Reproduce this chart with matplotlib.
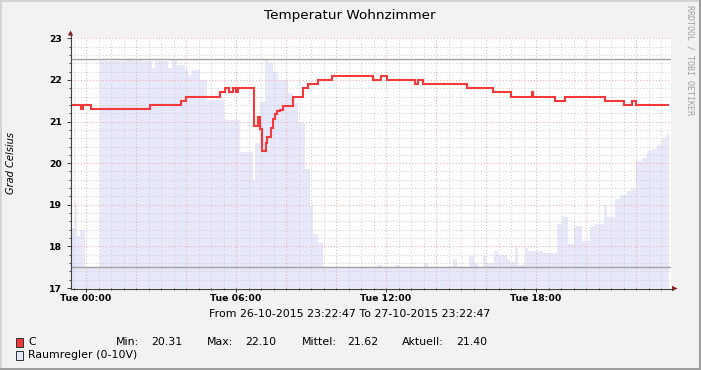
import matplotlib
matplotlib.use('Agg')
import matplotlib.pyplot as plt
import numpy as np
from matplotlib.patches import Rectangle, Polygon
from matplotlib.lines import Line2D

# ---------------- data (hours relative to Tue 00:00) ----------------
x_start, x_end = -0.6203, 23.3797

temp_hours = [-0.62, -0.20, -0.11, 0.20, 2.56, 3.80, 4.00, 5.36, 5.56, 5.72, 5.88, 5.99,
              6.07, 6.72, 6.89, 6.96, 7.05, 7.20, 7.25, 7.39, 7.47, 7.56, 7.65, 7.76,
              7.89, 8.29, 8.69, 8.89, 9.29, 9.83, 11.49, 11.79, 12.03, 13.16, 13.29,
              13.49, 15.23, 16.29, 16.99, 17.83, 17.89, 18.76, 19.16, 20.76, 21.52,
              21.83, 22.00]
temp_values = [21.4, 21.3, 21.4, 21.3, 21.4, 21.5, 21.6, 21.7, 21.8, 21.7, 21.8, 21.7,
               21.8, 20.9, 21.1, 20.82, 20.3, 20.48, 20.64, 20.85, 21.07, 21.18, 21.25, 21.28,
               21.38, 21.6, 21.8, 21.9, 22.0, 22.1, 22.0, 22.1, 22.0, 21.9, 22.0,
               21.9, 21.8, 21.7, 21.6, 21.7, 21.6, 21.5, 21.6, 21.5, 21.4,
               21.5, 21.4]
temp_end = 23.29

regler_hours = [-0.62, -0.44, -0.37, -0.24, -0.04, 0.56, 1.63, 1.83, 2.08, 2.24, 2.63, 2.76,
                3.28, 3.44, 3.64, 3.96, 4.08, 4.24, 4.56, 4.84, 5.52, 6.16, 6.68, 6.76,
                6.96, 7.16, 7.28, 7.48, 7.68, 8.08, 8.28, 8.48, 8.76, 8.96, 9.08, 9.28,
                9.48, 11.63, 11.83, 12.36, 12.52, 13.52, 13.68, 14.68, 14.84, 15.32,
                15.52, 15.68, 15.88, 16.00, 16.32, 16.48, 16.84, 16.96, 17.16, 17.28,
                17.56, 17.68, 18.28, 18.84, 19.04, 19.28, 19.52, 19.84, 20.16, 20.36,
                20.72, 20.84, 21.16, 21.36, 21.64, 21.80, 22.00, 22.24, 22.44, 22.64,
                22.84, 23.04, 23.20]
regler_values = [18.45, 19.04, 18.26, 18.40, 17.50, 22.46, 22.50, 22.46, 22.50, 22.46, 22.28, 22.46,
                 22.28, 22.50, 22.36, 22.24, 22.12, 22.24, 22.00, 21.52, 21.04, 20.26, 19.60, 20.49,
                 21.48, 22.48, 22.40, 22.20, 22.00, 21.68, 21.44, 20.96, 19.87, 18.98, 18.30, 18.08,
                 17.50, 17.56, 17.50, 17.56, 17.50, 17.60, 17.50, 17.70, 17.50, 17.77,
                 17.60, 17.50, 17.77, 17.60, 17.90, 17.80, 17.70, 17.63, 17.98, 17.55,
                 17.95, 17.90, 17.85, 18.54, 18.70, 18.06, 18.50, 18.12, 18.50, 18.54,
                 19.00, 18.70, 19.14, 19.24, 19.32, 19.40, 20.04, 20.12, 20.28, 20.34,
                 20.44, 20.60, 20.70]
regler_end = 23.32

hrules = [22.5, 17.5]
x_tick_pos = [0, 6, 12, 18]
x_tick_labels = ['Tue 00:00', 'Tue 06:00', 'Tue 12:00', 'Tue 18:00']
y_ticks = [17, 18, 19, 20, 21, 22, 23]

legend_stats = [('Min:', '20.31'), ('Max:', '22.10'), ('Mittel:', '21.62'), ('Aktuell:', '21.40')]

# ---------------- figure ----------------
W, H = 701, 370
fig = plt.figure(figsize=(W / 100, H / 100), dpi=100, facecolor='#f2f2f2')

def fx(x):
    return x / W

def fy(y):
    return 1 - y / H

# 3D border
fig.add_artist(Rectangle((0, fy(2)), 1, 2 / H, transform=fig.transFigure, color='#d4d4d4', lw=0))
fig.add_artist(Rectangle((0, 0), 2 / W, 1, transform=fig.transFigure, color='#d4d4d4', lw=0))
fig.add_artist(Rectangle((0, 0), 1, 2 / H, transform=fig.transFigure, color='#9e9e9e', lw=0))
fig.add_artist(Rectangle((fx(699), 0), 2 / W, 1, transform=fig.transFigure, color='#9e9e9e', lw=0))

ax = fig.add_axes([fx(70.5), fy(288), 600 / W, (288 - 38.3) / H])
ax.set_facecolor('white')
ax.set_xlim(x_start, x_end)
ax.set_ylim(17, 23)
for s in ax.spines.values():
    s.set_visible(False)

# area
rx = regler_hours + [regler_end]
ry = regler_values + [regler_values[-1]]
ax.fill_between(rx, 17, ry, step='post', color='#e8e8fb', lw=0, zorder=1)

# grid
minor_col = '#cfcfcf'
major_col = '#eeacac'
dots = (0, (1, 2))
for v in np.arange(17.2, 23.0, 0.2):
    if abs(v - round(v)) > 1e-6:
        ax.axhline(v, color=minor_col, lw=0.75, ls=dots, zorder=2)
for v in np.arange(-0.5, 23.3, 0.5):
    if abs(v / 2 - round(v / 2)) > 1e-6:
        ax.axvline(v, color=minor_col, lw=0.75, ls=dots, zorder=2)
for v in range(18, 24):
    ax.axhline(v, color=major_col, lw=0.75, ls=dots, zorder=2.1)
for v in range(0, 24, 2):
    ax.axvline(v, color=major_col, lw=0.75, ls=dots, zorder=2.1)

for h in hrules:
    ax.axhline(h, color='#a0a0a0', lw=1.0, zorder=2.5)

# temperature line
tx = temp_hours + [temp_end]
ty = temp_values + [temp_values[-1]]
ax.plot(tx, ty, drawstyle='steps-post', color='#f23a3a', lw=1.5, zorder=3,
        solid_joinstyle='miter')

# ticks
ax.set_xticks(x_tick_pos)
ax.set_xticklabels(x_tick_labels, fontsize=6.7, fontweight='bold')
ax.set_xticks(np.arange(-0.5, 23.3, 0.5), minor=True)
ax.set_yticks(y_ticks)
ax.set_yticklabels([str(v) for v in y_ticks], fontsize=6.7, fontweight='bold')
ax.set_yticks(np.arange(17, 23.01, 0.2), minor=True)
ax.tick_params(axis='both', which='major', length=3, width=0.7, color='#404040', pad=1.5)
ax.tick_params(axis='both', which='minor', length=1.5, width=0.7, color='#404040')
ax.tick_params(axis='y', pad=3)

# axis lines and arrows
axis_col = '#404040'
fig.add_artist(Line2D([fx(70.5), fx(70.5)], [fy(288.5), fy(34)], color=axis_col, lw=0.8))
fig.add_artist(Line2D([fx(70.5), fx(673)], [fy(288.5), fy(288.5)], color=axis_col, lw=0.8))
fig.add_artist(Polygon([[fx(67.8), fy(35.5)], [fx(73.2), fy(35.5)], [fx(70.5), fy(30.5)]],
                       closed=True, transform=fig.transFigure, color='#8b1a1a', lw=0))
fig.add_artist(Polygon([[fx(672), fy(285.8)], [fx(672), fy(291.2)], [fx(677.5), fy(288.5)]],
                       closed=True, transform=fig.transFigure, color='#8b1a1a', lw=0))

# texts
fig.text(fx(350), fy(15), 'Temperatur Wohnzimmer', ha='center', va='center', fontsize=9.7,
         color='#000000')
fig.text(fx(11), fy(163), 'Grad Celsius', ha='center', va='center', rotation=90,
         fontsize=7.1, style='italic', color='#000000')
fig.text(fx(690), fy(60), 'RRDTOOL / TOBI OETIKER', ha='center', va='center', rotation=-90,
         fontsize=6.0, family='DejaVu Sans Mono', color='#a0a0a0')
fig.text(fx(350), fy(314), 'From 26-10-2015 23:22:47 To 27-10-2015 23:22:47', ha='center',
         va='center', fontsize=7.9, color='#000000')

# legend
fig.add_artist(Rectangle((fx(15.5), fy(346.5)), 7.5 / W, 8.5 / H, transform=fig.transFigure,
                         facecolor='#f23a3a', edgecolor='#303030', lw=0.7))
fig.add_artist(Rectangle((fx(15.5), fy(359.5)), 7.5 / W, 8.5 / H, transform=fig.transFigure,
                         facecolor='#e8e8fb', edgecolor='#303030', lw=0.7))
fig.text(fx(28), fy(342), 'C', ha='left', va='center', fontsize=7.9)
fig.text(fx(28), fy(355.5), 'Raumregler (0-10V)', ha='left', va='center', fontsize=7.9)
label_x = [116, 207, 302, 402]
value_x = [151, 245, 347, 456]
for (lab, val), lx, vx in zip(legend_stats, label_x, value_x):
    fig.text(fx(lx), fy(342), lab, ha='left', va='center', fontsize=7.9)
    fig.text(fx(vx), fy(342), val, ha='left', va='center', fontsize=7.9)

fig.savefig('out.png', dpi=100, facecolor=fig.get_facecolor())
